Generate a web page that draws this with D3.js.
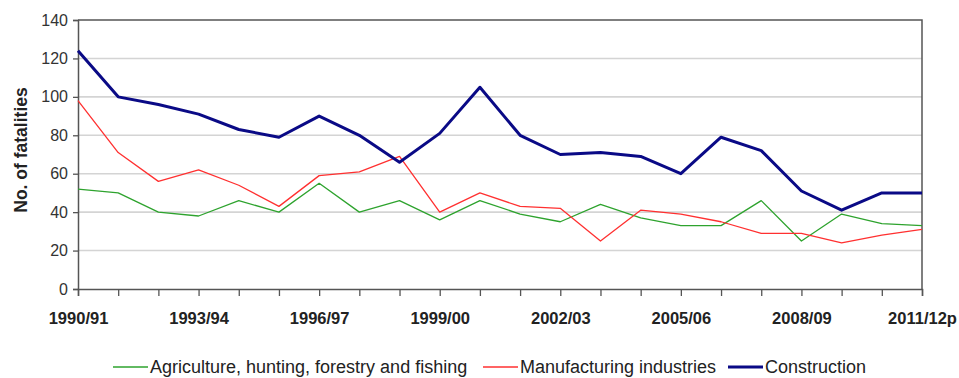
<!DOCTYPE html>
<html>
<head>
<meta charset="utf-8">
<script src="https://cdn.jsdelivr.net/npm/d3@7"></script>
<style>
  html, body { margin: 0; padding: 0; background: #fff; }
  svg { display: block; font-family: "Liberation Sans", Arial, sans-serif; }
</style>
</head>
<body>
<svg id="chart" width="959" height="378"></svg>
<script>
// Fatalities by industry, 1990/91 to 2011/12p
const years = ["1990/91","1991/92","1992/93","1993/94","1994/95","1995/96","1996/97","1997/98",
  "1998/99","1999/00","2000/01","2001/02","2002/03","2003/04","2004/05","2005/06","2006/07",
  "2007/08","2008/09","2009/10","2010/11","2011/12p"];
const tickLabels = ["1990/91","1993/94","1996/97","1999/00","2002/03","2005/06","2008/09","2011/12p"];
const yTicks = [0, 20, 40, 60, 80, 100, 120, 140];

const agriculture   = [52, 50, 40, 38, 46, 40, 55, 40, 46, 36, 46, 39, 35, 44, 37, 33, 33, 46, 25, 39, 34, 33];
const manufacturing = [98, 71, 56, 62, 54, 43, 59, 61, 69, 40, 50, 43, 42, 25, 41, 39, 35, 29, 29, 24, 28, 31];
const construction  = [124, 100, 96, 91, 83, 79, 90, 80, 66, 81, 105, 80, 70, 71, 69, 60, 79, 72, 51, 41, 50, 50];

const seriesNames = ["Agriculture, hunting, forestry and fishing", "Manufacturing industries", "Construction"];
const seriesColors = ["#2ea32e", "#ff3030", "#0a0a86"];
const seriesWidths = [1.3, 1.3, 3];

const FONT = "'Liberation Sans', Arial, sans-serif";
const svg = d3.select("#chart");
const plotL = 78, plotR = 922, plotT = 20, plotB = 289;

const x = d3.scalePoint().domain(years).range([plotL, plotR]);
const y = d3.scaleLinear().domain([0, 140]).range([plotB, plotT]);

// horizontal gridlines
svg.append("g").selectAll("line").data(yTicks.filter(v => v > 0 && v < 140)).join("line")
  .attr("x1", plotL).attr("x2", plotR)
  .attr("y1", d => y(d)).attr("y2", d => y(d))
  .attr("stroke", "#d4d4d4").attr("stroke-width", 1.6);

// top and right frame
svg.append("path")
  .attr("d", `M${plotL},${plotT}H${plotR}V${plotB}`)
  .attr("fill", "none").attr("stroke", "#555").attr("stroke-width", 1.5);

// y axis
const yAxis = svg.append("g").attr("transform", `translate(${plotL},0)`)
  .call(d3.axisLeft(y).tickValues(yTicks).tickSize(5).tickPadding(5));
yAxis.select(".domain").attr("stroke", "#555").attr("stroke-width", 1.5);
yAxis.selectAll(".tick line").attr("stroke", "#555").attr("stroke-width", 1.3);
yAxis.selectAll("text").attr("font-size", 16).attr("fill", "#333").attr("font-family", FONT);

// x axis
const xAxis = svg.append("g").attr("transform", `translate(0,${plotB})`)
  .call(d3.axisBottom(x).tickSize(7).tickPadding(16)
    .tickFormat(d => tickLabels.includes(d) ? d : ""));
xAxis.select(".domain").attr("stroke", "#555").attr("stroke-width", 1.5);
xAxis.selectAll(".tick line").attr("stroke", "#555").attr("stroke-width", 1.3);
xAxis.selectAll("text").attr("font-size", 16.5).attr("font-weight", "bold").attr("fill", "#222")
  .attr("font-family", FONT);

// y axis title
svg.append("text")
  .attr("transform", `translate(27,150) rotate(-90)`)
  .attr("text-anchor", "middle")
  .attr("font-family", FONT)
  .attr("font-size", 17.5).attr("font-weight", "bold").attr("fill", "#222")
  .text("No. of fatalities");

// series lines
const data = [agriculture, manufacturing, construction];
const line = d3.line().x((d, i) => x(years[i])).y(d => y(d));
svg.append("g").selectAll("path").data(data).join("path")
  .attr("d", line)
  .attr("fill", "none")
  .attr("stroke", (d, i) => seriesColors[i])
  .attr("stroke-width", (d, i) => seriesWidths[i])
  .attr("stroke-linejoin", "round");

// legend
const legendX = [113, 483, 728];
const legend = svg.append("g").selectAll("g").data(seriesNames).join("g")
  .attr("transform", (d, i) => `translate(${legendX[i]},367)`);
legend.append("line")
  .attr("x1", 0).attr("x2", 35).attr("y1", 0).attr("y2", 0)
  .attr("stroke", (d, i) => seriesColors[i])
  .attr("stroke-width", (d, i) => i === 2 ? 3 : 1.6);
legend.append("text")
  .attr("x", 37).attr("y", 6)
  .attr("font-size", 18).attr("fill", "#222")
  .attr("font-family", FONT)
  .text(d => d);
</script>
</body>
</html>
